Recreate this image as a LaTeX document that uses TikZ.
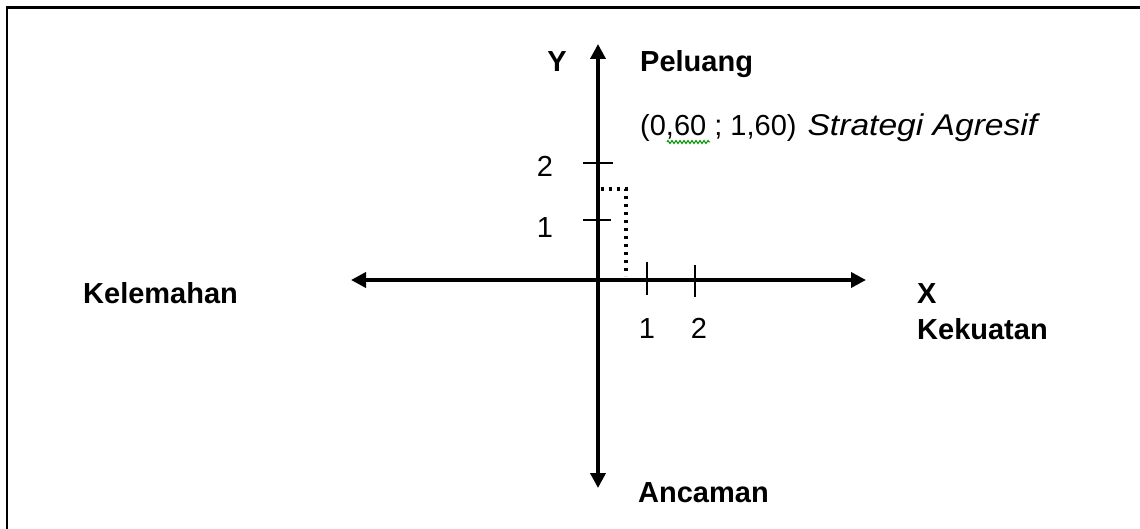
\documentclass[tikz,border=0pt]{standalone}
\usepackage{fontspec}
\setmainfont{Liberation Sans}
\usetikzlibrary{arrows.meta,decorations.pathmorphing}
\begin{document}
\begin{tikzpicture}[x=1pt,y=-1pt,
  axis/.style={line width=3.6pt,{Triangle[length=15pt,width=15pt]}-{Triangle[length=15pt,width=15pt]}},
  tick/.style={line width=1.8pt},
  guide/.style={line width=3.2pt,dash pattern=on 3.2pt off 4.8pt},
  frame/.style={line width=2.5pt},
  lbl/.style={font=\fontsize{29}{33}\selectfont\bfseries,inner sep=0pt,anchor=base west},
  lblc/.style={font=\fontsize{29}{33}\selectfont\bfseries,inner sep=0pt,anchor=base},
  num/.style={font=\fontsize{29}{33}\selectfont,inner sep=0pt,anchor=base},
  txt/.style={font=\fontsize{29}{33}\selectfont,inner sep=0pt,anchor=base west},
  squiggle/.style={green!60!black,line width=1pt,decorate,decoration={zigzag,amplitude=1.5pt,segment length=4pt}}
]
\useasboundingbox (0,0) rectangle (1140,529);
% frame
\coordinate (fbl) at (7,540);
\coordinate (ftl) at (7,7.5);
\coordinate (ftr) at (1150,7.5);
\draw[frame] (fbl) -- (ftl) -- (ftr);
% axes
\coordinate (xl) at (351,280);
\coordinate (xr) at (866,280);
\coordinate (yt) at (598,44);
\coordinate (yb) at (598,488);
\draw[axis] (xl) -- (xr);
\draw[axis] (yb) -- (yt);
% ticks
\coordinate (ty2a) at (583,163); \coordinate (ty2b) at (613,163);
\coordinate (ty1a) at (583,220); \coordinate (ty1b) at (611,220);
\coordinate (tx1a) at (647,262); \coordinate (tx1b) at (647,295);
\coordinate (tx2a) at (695,265); \coordinate (tx2b) at (695,297);
\draw[tick] (ty2a) -- (ty2b);
\draw[tick] (ty1a) -- (ty1b);
\draw[tick] (tx1a) -- (tx1b);
\draw[tick] (tx2a) -- (tx2b);
% dotted guide
\coordinate (ga) at (601,189);
\coordinate (gc) at (626,189);
\coordinate (gb) at (626,276);
\draw[guide] (ga) -- (gc) -- (gb);
% labels
\node[lblc] (Y) at (557,72) {Y};
\node[lbl] (peluang) at (640,72) {Peluang};
\node[txt] (pt) at (640,136) {(0,60 ; 1,60)\hspace{11pt}\scalebox{1.12}[1]{\fontsize{30}{34}\selectfont\itshape Strategi Agresif}};
\coordinate (sqa) at (667,142);
\coordinate (sqb) at (710,142);
\draw[squiggle] (sqa) -- (sqb);
\node[num] (y2) at (545,177) {2};
\node[num] (y1) at (545,238) {1};
\node[num] (x1) at (647,338) {1};
\node[num] (x2) at (699,338) {2};
\node[lbl] (kel) at (83,304) {Kelemahan};
\node[lbl] (X) at (917,304) {X};
\node[lbl] (kek) at (917,339) {Kekuatan};
\node[lbl] (anc) at (638,502) {Ancaman};
\end{tikzpicture}
\end{document}
